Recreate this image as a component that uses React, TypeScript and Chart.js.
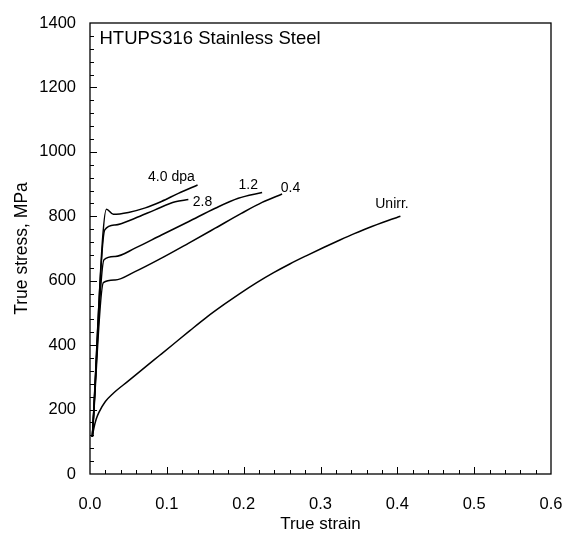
import React, { useEffect, useRef } from "react";
import { Chart, registerables } from "chart.js";

Chart.register(...registerables);

const FONT = "'Liberation Sans', Arial, Helvetica, sans-serif";

// Unirradiated
const unirrStrain = [0.003, 0.005, 0.008, 0.012, 0.02, 0.03, 0.05, 0.073, 0.09, 0.108, 0.13, 0.152, 0.175, 0.195, 0.217, 0.239, 0.26, 0.282, 0.304, 0.326, 0.344, 0.361, 0.388, 0.404];
const unirrStress = [115, 142, 170, 193, 225, 250, 289, 334, 367, 402, 445, 487, 527, 560, 594, 625, 652, 678, 703, 727, 746, 763, 787, 800];

// 0.4 dpa
const dpa04Strain = [0.003, 0.0174, 0.0326, 0.0586, 0.093, 0.128, 0.163, 0.197, 0.224, 0.25];
const dpa04Stress = [115, 594, 602, 628, 670, 716, 763, 809, 843, 869];

// 1.2 dpa
const dpa12Strain = [0.003, 0.0182, 0.0326, 0.0586, 0.093, 0.128, 0.163, 0.193, 0.224];
const dpa12Stress = [115, 665, 675, 701, 742, 783, 825, 856, 874];

// 2.8 dpa
const dpa28Strain = [0.003, 0.0192, 0.0326, 0.0586, 0.0846, 0.111, 0.128];
const dpa28Stress = [115, 758, 773, 794, 820, 845, 852];

// 4.0 dpa
const dpa40Strain = [0.003, 0.0214, 0.0304, 0.05, 0.072, 0.093, 0.115, 0.14];
const dpa40Stress = [115, 822, 806, 812, 826, 846, 871, 897];

// Curve annotations
const curveLabelText = ["4.0 dpa", "2.8", "1.2", "0.4", "Unirr."];
const curveLabelStrain = [0.106, 0.1465, 0.206, 0.261, 0.393];
const curveLabelStress = [923, 845, 898, 886, 838];

const chartTitle = "HTUPS316 Stainless Steel";
const xAxisTitle = "True strain";
const yAxisTitle = "True stress, MPa";

const xMin = 0, xMax = 0.6, xMajor = 0.1, xMinor = 0.02;
const yMin = 0, yMax = 1400, yMajor = 200, yMinor = 40;

const framePlugin = {
  id: "frameAndTicks",
  afterDatasetsDraw(chart: any) {
    const { ctx, chartArea } = chart;
    const xs = chart.scales.x;
    const ys = chart.scales.y;
    ctx.save();
    ctx.strokeStyle = "#000";
    ctx.lineWidth = 1.3;
    ctx.strokeRect(chartArea.left, chartArea.top, chartArea.right - chartArea.left, chartArea.bottom - chartArea.top);
    ctx.lineWidth = 1;
    ctx.beginPath();
    const nx = Math.round((xMax - xMin) / xMinor);
    for (let i = 1; i < nx; i++) {
      const v = xMin + i * xMinor;
      const px = Math.round(xs.getPixelForValue(v)) + 0.5;
      const major = i % Math.round(xMajor / xMinor) === 0;
      const len = major ? 7 : 4;
      ctx.moveTo(px, chartArea.bottom);
      ctx.lineTo(px, chartArea.bottom - len);
    }
    const ny = Math.round((yMax - yMin) / yMinor);
    for (let i = 1; i < ny; i++) {
      const v = yMin + i * yMinor;
      const py = Math.round(ys.getPixelForValue(v)) + 0.5;
      const major = i % Math.round(yMajor / yMinor) === 0;
      const len = major ? 7 : 4;
      ctx.moveTo(chartArea.left, py);
      ctx.lineTo(chartArea.left + len, py);
    }
    ctx.stroke();

    // annotations
    ctx.fillStyle = "#000";
    ctx.textBaseline = "middle";
    ctx.textAlign = "center";
    ctx.font = `14px ${FONT}`;
    curveLabelText.forEach((t, i) => {
      ctx.fillText(t, xs.getPixelForValue(curveLabelStrain[i]), ys.getPixelForValue(curveLabelStress[i]));
    });
    ctx.textAlign = "left";
    ctx.font = `18.5px ${FONT}`;
    ctx.fillText(chartTitle, chartArea.left + 9.5, chartArea.top + 16);
    ctx.restore();
  },
};

export default function App() {
  const ref = useRef<HTMLCanvasElement>(null);
  useEffect(() => {
    const mk = (xs: number[], ys: number[]) => xs.map((x, i) => ({ x, y: ys[i] }));
    const series = [
      mk(unirrStrain, unirrStress),
      mk(dpa04Strain, dpa04Stress),
      mk(dpa12Strain, dpa12Stress),
      mk(dpa28Strain, dpa28Stress),
      mk(dpa40Strain, dpa40Stress),
    ];
    const chart = new Chart(ref.current!, {
      type: "line",
      data: {
        datasets: series.map((d) => ({
          data: d,
          borderColor: "#000",
          borderWidth: 1.5,
          pointRadius: 0,
          fill: false,
          cubicInterpolationMode: "monotone" as const,
        })),
      },
      options: {
        animation: false,
        responsive: false,
        layout: { padding: { left: 0, right: 14, top: 23, bottom: 0 } },
        plugins: { legend: { display: false }, tooltip: { enabled: false } },
        scales: {
          x: {
            type: "linear",
            min: xMin,
            max: xMax,
            grid: { display: false, drawTicks: true, tickLength: 21 },
            border: { display: false },
            ticks: {
              stepSize: xMajor,
              autoSkip: false,
              maxRotation: 0,
              padding: 0,
              color: "#000",
              font: { family: FONT, size: 16.5 },
              callback: (v: any) => Number(v).toFixed(1),
            },
            title: {
              display: true,
              text: xAxisTitle,
              color: "#000",
              font: { family: FONT, size: 17 },
              padding: { top: 0, bottom: 0 },
            },
            afterFit: (s: any) => {
              s.height = 61;
            },
          },
          y: {
            type: "linear",
            min: yMin,
            max: yMax,
            grid: { display: false, drawTicks: true, tickLength: 14 },
            border: { display: false },
            ticks: {
              stepSize: yMajor,
              autoSkip: false,
              padding: 0,
              color: "#000",
              font: { family: FONT, size: 16.5 },
              callback: (v: any) => String(Math.round(Number(v))),
            },
            title: {
              display: true,
              text: yAxisTitle,
              color: "#000",
              font: { family: FONT, size: 17.5 },
              padding: { top: 12, bottom: 0 },
            },
            afterFit: (s: any) => {
              s.width = 90;
            },
          },
        },
      },
      plugins: [framePlugin],
    });
    return () => chart.destroy();
  }, []);
  return (
    <div style={{ position: "fixed", left: 0, top: 0, width: 565, height: 535, background: "#fff" }}>
      <canvas ref={ref} width={565} height={535} style={{ display: "block" }} />
    </div>
  );
}
